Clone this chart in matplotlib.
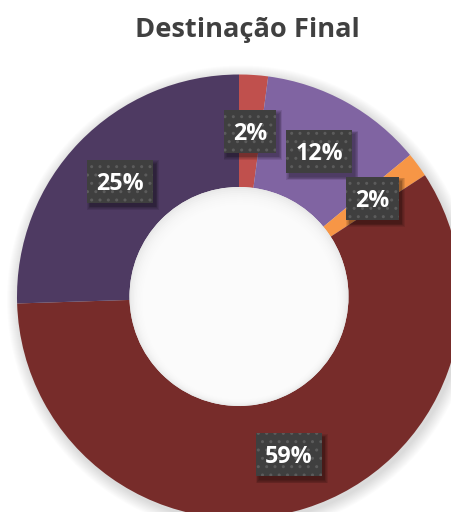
import matplotlib
matplotlib.use("Agg")
import matplotlib.pyplot as plt
from matplotlib.patches import Circle, Rectangle
import numpy as np

title = "Destinação Final"
categories = ["A", "B", "C", "D", "E"]
values = [2.1, 11.9, 1.8, 58.7, 25.5]
labels = ["2%", "12%", "2%", "59%", "25%"]
colors = ["#C0504D", "#8064A2", "#F79646", "#772C2A", "#4E3A62"]

W, H = 451, 512
fig = plt.figure(figsize=(W / 100, H / 100), dpi=100)
fig.patch.set_facecolor("white")
ax = fig.add_axes([0, 0, 1, 1])
ax.set_xlim(0, W)
ax.set_ylim(0, H)
ax.set_aspect("equal")
ax.axis("off")

cx, cy = 239, 215.5
R = 222
r_in = 109.5
FONT = ["Open Sans", "DejaVu Sans"]

# soft outer shadow
for i in range(12):
    ax.add_patch(Circle((cx + 2, cy - 3), R + 12 - i, facecolor="#000000",
                        alpha=0.012, edgecolor="none", zorder=0))

wedges, _ = ax.pie(values, colors=colors, startangle=90, counterclock=False,
                   radius=R, center=(cx, cy),
                   wedgeprops=dict(width=R - r_in, edgecolor="none", linewidth=0))
for w in wedges:
    w.set_zorder(1)
ax.set_xlim(0, W)
ax.set_ylim(0, H)

# inner shadow in the hole
ax.add_patch(Circle((cx, cy), r_in, facecolor="#e4e4e4", edgecolor="none", zorder=2))
for i in range(22):
    ax.add_patch(Circle((cx + 0.1 * i, cy - 0.6 * i), r_in - 1.3 * i,
                        facecolor="white", alpha=0.22, edgecolor="none", zorder=2))

renderer = fig.canvas.get_renderer()

def fit_size(txt, target_w, **kw):
    t = ax.text(0, 0, txt, fontsize=10, fontweight="bold", family=FONT, **kw)
    w = t.get_window_extent(renderer).width
    t.remove()
    return 10 * target_w / w

lab_fs = fit_size("12%", 47)
cap = 0.714 * lab_fs * 100 / 72

mid_r = (R + r_in) / 2
for w, lab in zip(wedges, labels):
    ang = np.deg2rad((w.theta1 + w.theta2) / 2)
    x = cx + mid_r * np.cos(ang)
    y = cy + mid_r * np.sin(ang)
    t = ax.text(x, y - cap / 2 - 0.5, lab, ha="center", va="baseline", color="white",
                fontsize=lab_fs, fontweight="bold", family=FONT, zorder=6)
    tw = t.get_window_extent(renderer).width
    bw, bh = tw + 18, 43
    # blurred shadow
    for k in range(5):
        ax.add_patch(Rectangle((x - bw / 2 + 3 - k * 0.8, y - bh / 2 - 4 - k * 0.8),
                               bw + k * 1.6, bh + k * 1.6, facecolor="black",
                               alpha=0.09, edgecolor="none", zorder=3))
    ax.add_patch(Rectangle((x - bw / 2, y - bh / 2), bw, bh, facecolor="#3f3f3f",
                           edgecolor="#5c5c5c", linewidth=0, hatch="..", zorder=4))

tfs = fit_size(title, 225)
ax.text(247.5, H - 37, title, ha="center", va="baseline", color="#404040",
        fontsize=tfs, fontweight="bold", family=FONT)

fig.savefig("out.png", dpi=100, facecolor="white")
